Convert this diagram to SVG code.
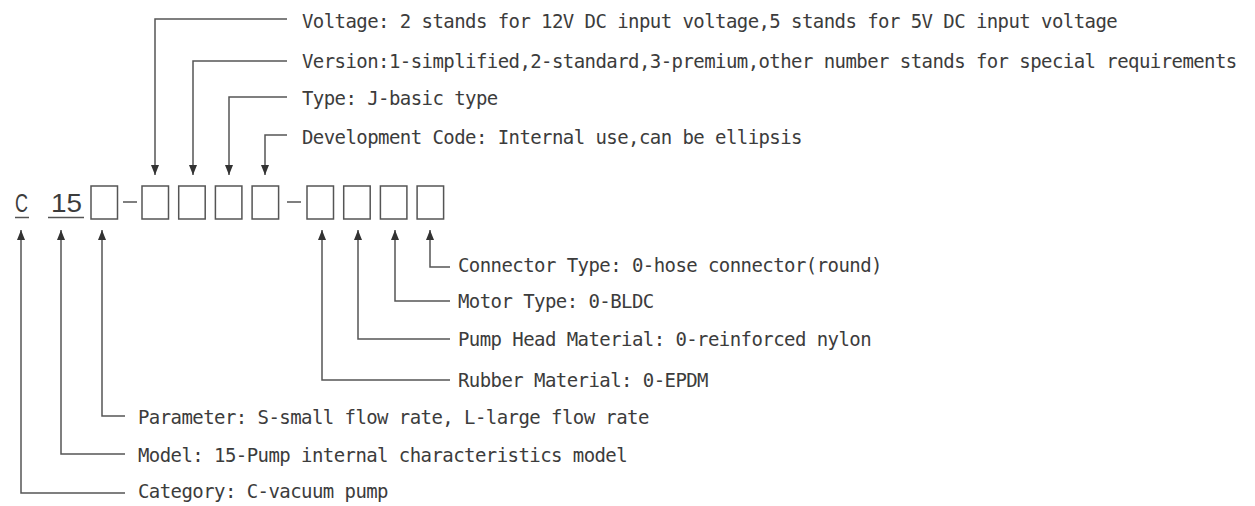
<svg xmlns="http://www.w3.org/2000/svg" width="1255" height="506" viewBox="0 0 1255 506">
<style>
.t{font-family:"DejaVu Sans Mono","Liberation Mono",monospace;font-size:19px;letter-spacing:-0.57px;fill:#3c3c3c}
.big{font-family:"Liberation Sans","Arial",sans-serif;font-size:26px;fill:#3c3c3c}
.box{fill:none;stroke:#555;stroke-width:1.5}
.ln{fill:none;stroke:#555;stroke-width:1.5}
.c{fill:none;stroke:#555;stroke-width:1.5}
</style>
<defs>
<marker id="ah" markerUnits="userSpaceOnUse" markerWidth="10" markerHeight="10" viewBox="0 0 10 10" refX="10" refY="5" orient="auto">
<path d="M0,1 L10,5 L0,9 Z" fill="#333"/>
</marker>
</defs>
<rect width="1255" height="506" fill="#fff"/>

<g id="code">
<g id="code-C">
<text class="big" x="15" y="212" textLength="13" lengthAdjust="spacingAndGlyphs">C</text>
<line class="ln" x1="15" y1="217.5" x2="29" y2="217.5"/>
</g>
<g id="code-15">
<text class="big" x="51" y="212" textLength="31" lengthAdjust="spacingAndGlyphs">15</text>
<line class="ln" x1="48" y1="217.5" x2="84" y2="217.5"/>
</g>
<g id="box1"><rect class="box" x="91" y="186" width="26.5" height="33"/></g>
<line class="ln" x1="123" y1="202" x2="137" y2="202"/>
<g id="box2"><rect class="box" x="142" y="186" width="26.5" height="33"/></g>
<g id="box3"><rect class="box" x="178.7" y="186" width="26.5" height="33"/></g>
<g id="box4"><rect class="box" x="215.4" y="186" width="26.5" height="33"/></g>
<g id="box5"><rect class="box" x="252.1" y="186" width="26.5" height="33"/></g>
<line class="ln" x1="287" y1="202" x2="301" y2="202"/>
<g id="box6"><rect class="box" x="307" y="186" width="26.5" height="33"/></g>
<g id="box7"><rect class="box" x="343.7" y="186" width="26.5" height="33"/></g>
<g id="box8"><rect class="box" x="380.4" y="186" width="26.5" height="33"/></g>
<g id="box9"><rect class="box" x="417.1" y="186" width="26.5" height="33"/></g>
</g>

<g id="connectors">
<path class="c" d="M287,19 H155 V175" marker-end="url(#ah)"/>
<path class="c" d="M287,61 H193 V175" marker-end="url(#ah)"/>
<path class="c" d="M287,97 H229 V175" marker-end="url(#ah)"/>
<path class="c" d="M287,135 H265 V175" marker-end="url(#ah)"/>
<path class="c" d="M450,267 H430 V230" marker-end="url(#ah)"/>
<path class="c" d="M450,301 H395 V230" marker-end="url(#ah)"/>
<path class="c" d="M450,339 H358 V230" marker-end="url(#ah)"/>
<path class="c" d="M450,380 H322 V230" marker-end="url(#ah)"/>
<path class="c" d="M125,416 H102 V230" marker-end="url(#ah)"/>
<path class="c" d="M125,454 H61 V230" marker-end="url(#ah)"/>
<path class="c" d="M125,493 H21 V230" marker-end="url(#ah)"/>
</g>

<g id="label-voltage"><text class="t" x="302" y="28">Voltage: 2 stands for 12V DC input voltage,5 stands for 5V DC input voltage</text></g>
<g id="label-version"><text class="t" x="302" y="68">Version:1-simplified,2-standard,3-premium,other number stands for special requirements</text></g>
<g id="label-type"><text class="t" x="302" y="105">Type: J-basic type</text></g>
<g id="label-dev"><text class="t" x="302" y="144">Development Code: Internal use,can be ellipsis</text></g>
<g id="label-connector"><text class="t" x="458" y="272">Connector Type: 0-hose connector(round)</text></g>
<g id="label-motor"><text class="t" x="458" y="308">Motor Type: 0-BLDC</text></g>
<g id="label-pumphead"><text class="t" x="458" y="346">Pump Head Material: 0-reinforced nylon</text></g>
<g id="label-rubber"><text class="t" x="458" y="387">Rubber Material: 0-EPDM</text></g>
<g id="label-parameter"><text class="t" x="138" y="424">Parameter: S-small flow rate, L-large flow rate</text></g>
<g id="label-model"><text class="t" x="138" y="462">Model: 15-Pump internal characteristics model</text></g>
<g id="label-category"><text class="t" x="138" y="498">Category: C-vacuum pump</text></g>
</svg>
